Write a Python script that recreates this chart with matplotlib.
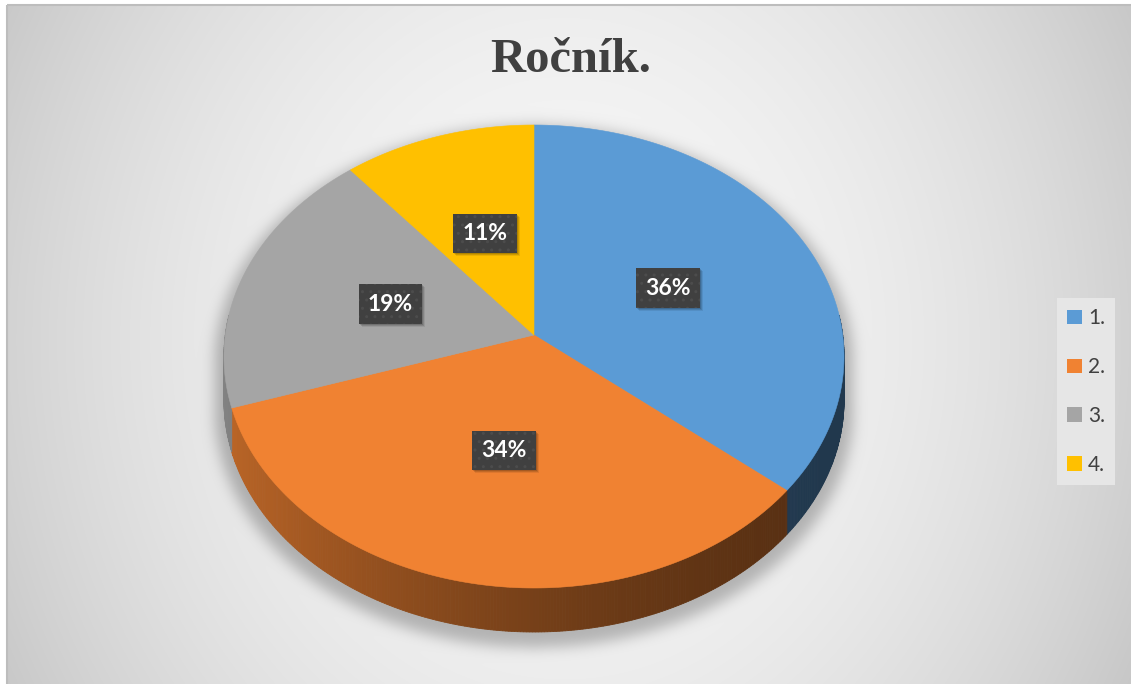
import numpy as np
import matplotlib
matplotlib.use("Agg")
import matplotlib.pyplot as plt
from matplotlib.patches import Polygon, Patch, Rectangle
from matplotlib.path import Path

# ---- data ----
categories = ["1.", "2.", "3.", "4."]
shares = [36, 34, 19, 11]
colors = ["#5B9BD5", "#F08232", "#A5A5A5", "#FFC000"]
title = "Ročník."

W, H = 1131, 684
fig = plt.figure(figsize=(W / 100, H / 100), dpi=100)
ax = fig.add_axes([0, 0, 1, 1])
ax.set_xlim(0, W)
ax.set_ylim(H, 0)
ax.axis("off")

# ---- tilted-disc projection (slight perspective) ----
CX, CY = 534.0, 335.0
RX, RY, PERSP = 308.7, 229.5, 0.0929
DEPTH = 44.0


def project(theta_deg, frac=1.0):
    """Angle clockwise from 12 o'clock -> screen point on the top face."""
    t = np.radians(theta_deg)
    X, Y = frac * np.sin(t), frac * np.cos(t)
    d = 1 + PERSP * Y
    return CX + RX * X / d, CY - RY * Y / d


total = float(sum(shares))
bounds = np.concatenate([[0.0], np.cumsum(shares) / total * 360.0])

# ---- background: soft grey gradient with a shadow under the disc ----
xs = np.arange(W) + 0.5
ys = np.arange(H) + 0.5
gx, gy = np.meshgrid(xs, ys)
dx = (gx - 565) / 700.0
dy = (gy - 340) / 480.0
bg = 247 - 57 * dx ** 2 - 20 * dy ** 2

th = np.linspace(0, 360, 361)
ox, oy = project(th)
pts = np.column_stack([gx.ravel(), gy.ravel()])
mask = np.zeros(gx.size, dtype=bool)
for sh in np.linspace(0, DEPTH, 6):
    sx = 534 + (ox - 534) * 1.03
    sy = 380 + (oy + sh - 380) * 1.03 + 8
    mask |= Path(np.column_stack([sx, sy])).contains_points(pts)
mask = mask.reshape(H, W).astype(float)


def blur(img, s):
    r = int(3 * s)
    k = np.exp(-0.5 * (np.arange(-r, r + 1) / s) ** 2)
    k /= k.sum()
    p = np.pad(img, r, mode="edge")
    acc = np.zeros((p.shape[0], W))
    for i, w in enumerate(k):
        acc += w * p[:, i:i + W]
    out = np.zeros((H, W))
    for i, w in enumerate(k):
        out += w * acc[i:i + H, :]
    return out


shadow = blur(mask, 7.0)
val = bg - 60 * shadow
val[(gx < 7) | (gy < 5)] = 255
img = np.clip(np.dstack([val, val, val]) / 255.0, 0, 1)
ax.imshow(img, extent=(0, W, H, 0), zorder=0, interpolation="bilinear")
ax.add_patch(Rectangle((7, 5), W, H, fill=False, edgecolor="#bdbdbd",
                       linewidth=1.5, zorder=1))


# ---- side wall (front half only), shaded by facing direction ----
def shade(theta_deg):
    X = np.sin(np.radians(theta_deg))
    return 0.36 + 0.43 * ((1 - X) / 2) ** 1.7


for i, c in enumerate(colors):
    a0 = max(bounds[i], 85.0)
    a1 = min(bounds[i + 1], 275.0)
    if a1 <= a0:
        continue
    steps = np.linspace(a0, a1, max(int((a1 - a0) * 2), 2) + 1)
    base = np.array(matplotlib.colors.to_rgb(c))
    for s0, s1 in zip(steps[:-1], steps[1:]):
        x0, y0 = project(s0)
        x1, y1 = project(s1)
        col = np.clip(base * shade((s0 + s1) / 2), 0, 1)
        quad = [(x0, y0), (x1, y1), (x1, y1 + DEPTH), (x0, y0 + DEPTH)]
        ax.add_patch(Polygon(quad, closed=True, facecolor=col,
                             edgecolor=col, linewidth=0.6, zorder=2))

# ---- top face wedges ----
for i, c in enumerate(colors):
    arc = np.linspace(bounds[i], bounds[i + 1], 200)
    px, py = project(arc)
    verts = [(CX, CY)] + list(zip(px, py))
    ax.add_patch(Polygon(verts, closed=True, facecolor=c, edgecolor=c,
                         linewidth=0.4, zorder=3))

# ---- percentage labels in dark boxes ----
labels = []
for i, v in enumerate(shares):
    mid = (bounds[i] + bounds[i + 1]) / 2
    lx, ly = project(mid, 0.49)
    t = ax.text(lx, ly, f"{v}%", ha="center", va="center", fontsize=16.5,
                fontweight="bold", family="Lato", color="white",
                bbox=dict(boxstyle="square,pad=0.4", facecolor="#404040",
                          edgecolor="#4c4c4c", linewidth=0, hatch=".."),
                zorder=5)
    labels.append(t)

# soft drop shadow behind each label box
fig.canvas.draw()
inv = ax.transData.inverted()
for t in labels:
    ext = t.get_bbox_patch().get_window_extent()
    (x0, y0), (x1, y1) = inv.transform([[ext.x0, ext.y0], [ext.x1, ext.y1]])
    for k, a in zip([1.0, 2.0, 3.0], [0.14, 0.12, 0.08]):
        ax.add_patch(Rectangle((min(x0, x1) + k, min(y0, y1) + k),
                               abs(x1 - x0), abs(y1 - y0),
                               facecolor=(0, 0, 0, a), edgecolor="none",
                               zorder=4))

# ---- title ----
ax.text(571, 72, title, ha="center", va="baseline", family="Liberation Serif",
        fontweight="bold", fontsize=35, color="#404040", zorder=5)

# ---- legend ----
handles = [Patch(facecolor=c, edgecolor="none") for c in colors]
leg = fig.legend(handles, categories, loc="upper left",
                 bbox_to_anchor=(1057 / W, 1 - 298 / H), frameon=True,
                 fancybox=False, facecolor="#e6e6e6", edgecolor="none",
                 framealpha=1.0, prop={"family": "Lato", "size": 15},
                 labelcolor="#404040", handlelength=0.68, handleheight=0.68,
                 labelspacing=1.38, handletextpad=0.3, borderpad=0.5,
                 borderaxespad=0)

fig.savefig("out.png", dpi=100)
